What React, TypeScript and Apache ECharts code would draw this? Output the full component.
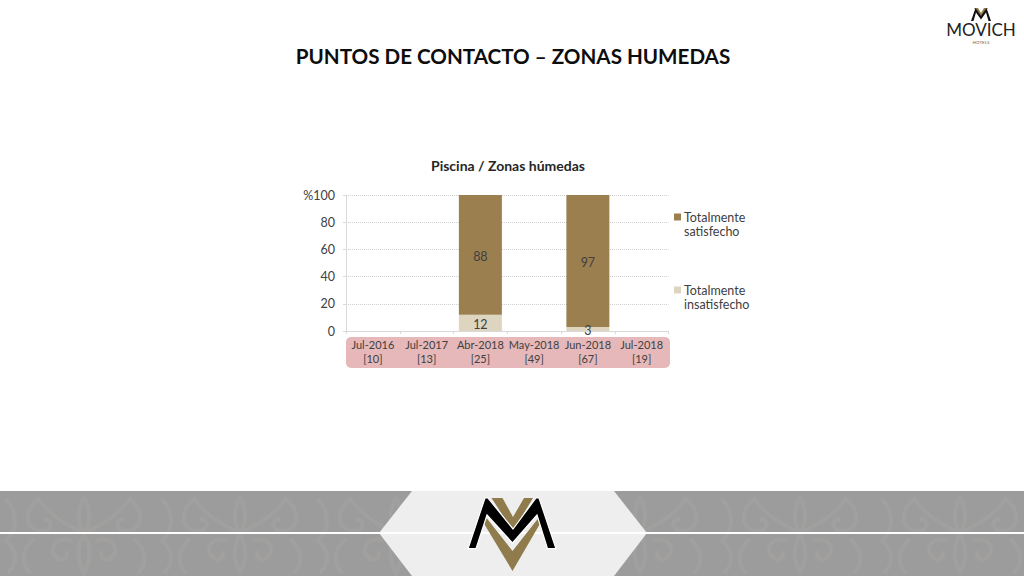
import React, { useEffect, useRef } from "react";
import * as echarts from "echarts";

const mainTitle = "PUNTOS DE CONTACTO – ZONAS HUMEDAS";
const chartTitle = "Piscina / Zonas húmedas";
const categories = ["Jul-2016\n[10]", "Jul-2017\n[13]", "Abr-2018\n[25]", "May-2018\n[49]", "Jun-2018\n[67]", "Jul-2018\n[19]"];
const seriesNames = ["Totalmente\nsatisfecho", "Totalmente\ninsatisfecho"];
const satisfecho = [null, null, 88, null, 97, null];
const insatisfecho = [null, null, 12, null, 3, null];

const FONT = "Lato";
const TEXT = "#404040";
const LEGEND_ICON = "path://M0 0H7V7H0Z M0 21L0 21";
const GOLD = "#8F7B4B";

echarts.graphic.registerShape(
  "damask",
  echarts.graphic.extendPath(
    "M0 -36 C-6 -24 -8 -12 0 0 C8 -12 6 -24 0 -36 M0 0 C-14 -6 -30 -14 -46 -34 C-62 -20 -58 -2 -42 -2 C-32 -2 -30 -14 -40 -14 M0 0 C14 -6 30 -14 46 -34 C62 -20 58 -2 42 -2 C32 -2 30 -14 40 -14 " +
      "M0 2 C-8 14 -6 28 0 40 C6 28 8 14 0 2 M-12 8 C-28 2 -36 16 -28 24 C-22 30 -14 24 -18 18 M12 8 C28 2 36 16 28 24 C22 30 14 24 18 18 " +
      "M-50 6 C-62 16 -64 30 -54 40 M50 6 C62 16 64 30 54 40 M-78 -34 C-66 -20 -66 -4 -78 8 C-66 18 -66 30 -76 40",
    {}
  ) as any
);

const damaskXs = [84, 240, 396, 640, 800, 960];

function App() {
  const ref = useRef<HTMLDivElement>(null);
  useEffect(() => {
    const chart = echarts.init(ref.current!, undefined, { renderer: "svg" });
    const damask = damaskXs.map((x) => ({
      type: "damask",
      x,
      y: 533,
      z: -9,
      silent: true,
      style: { fill: "none", stroke: "#a5a4a1", lineWidth: 4, opacity: 0.6 },
    }));
    chart.setOption({
      animation: false,
      backgroundColor: "#ffffff",
      textStyle: { fontFamily: FONT },
      title: [
        {
          text: mainTitle,
          left: 508,
          top: 40,
          textAlign: "center",
          textStyle: { fontFamily: FONT, fontWeight: "bold", fontSize: 20.6, color: "#0d0d0d" },
        },
        {
          text: chartTitle,
          left: 503,
          top: 153,
          textAlign: "center",
          textStyle: { fontFamily: FONT, fontWeight: "bold", fontSize: 14, color: "#262626" },
        },
      ],
      grid: { left: 346, top: 195, width: 322.5, height: 136 },
      legend: {
        orient: "vertical",
        left: 669,
        top: 205,
        itemWidth: 7,
        itemHeight: 21,
        itemGap: 45,
        icon: LEGEND_ICON,
        data: [seriesNames[0], seriesNames[1]],
        selectedMode: false,
        textStyle: { fontFamily: FONT, fontSize: 12.5, lineHeight: 14, color: TEXT, padding: [0, 0, 0, -2] },
      },
      xAxis: {
        type: "category",
        data: categories,
        axisLine: { lineStyle: { color: "#d9d9d9" } },
        axisTick: { show: true, length: 3, lineStyle: { color: "#d9d9d9" } },
        axisLabel: { interval: 0, margin: 6, fontFamily: FONT, fontSize: 11, lineHeight: 14, color: TEXT },
      },
      yAxis: {
        type: "value",
        min: 0,
        max: 100,
        interval: 20,
        axisLine: { show: true, lineStyle: { color: "#d9d9d9" } },
        axisTick: { show: true, length: 3, lineStyle: { color: "#d9d9d9" } },
        splitLine: { lineStyle: { color: "#cfcfcf", type: "dotted" } },
        axisLabel: {
          margin: 11,
          fontFamily: FONT,
          fontSize: 12.5,
          color: TEXT,
          formatter: (v: number) => (v === 100 ? "%100" : String(v)),
        },
      },
      series: [
        {
          name: seriesNames[1],
          type: "bar",
          stack: "total",
          barWidth: 43,
          data: insatisfecho,
          itemStyle: { color: "#DDD5BF" },
          label: { show: true, position: "inside", offset: [0, 2], fontFamily: FONT, fontSize: 12.5, color: TEXT },
        },
        {
          name: seriesNames[0],
          type: "bar",
          stack: "total",
          barWidth: 43,
          data: satisfecho,
          itemStyle: { color: "#9B7F4F" },
          label: { show: true, position: "inside", offset: [0, 2], fontFamily: FONT, fontSize: 12.5, color: TEXT },
        },
      ],
      graphic: [
        { type: "rect", z: -10, silent: true, shape: { x: 346, y: 337, width: 324, height: 31, r: 5 }, style: { fill: "#E6B8B9" } },
        // footer band
        { type: "rect", z: -10, silent: true, shape: { x: 0, y: 491, width: 1024, height: 85 }, style: { fill: "#9C9C9C" } },
        ...damask,
        { type: "polygon", z: -8, silent: true, shape: { points: [[412, 491], [614, 491], [647, 533], [614, 576], [412, 576], [379, 533]] }, style: { fill: "#EEEEEE" } },
        { type: "rect", z: -7, silent: true, shape: { x: 0, y: 532, width: 1024, height: 2 }, style: { fill: "#ffffff" } },
        // footer logo
        { type: "polygon", z: -6, silent: true, shape: { points: [[491.5, 498], [502.5, 498], [513, 517], [524, 498], [533, 498], [513, 531]] }, style: { fill: GOLD } },
        { type: "polygon", z: -6, silent: true, shape: { points: [[483, 522], [512.5, 571], [541, 522], [538.5, 518], [512.5, 551], [486.5, 518]] }, style: { fill: GOLD } },
        { type: "polygon", z: -5, silent: true, shape: { points: [[468, 548.7], [485, 498], [488, 498], [513, 529], [536, 498], [539, 498], [556, 548.7], [547.5, 548.7], [537, 515], [512.5, 543], [487, 515], [476, 548.7]] }, style: { fill: "#000000", stroke: "#ffffff", lineWidth: 1.2 } },
        // top logo
        { type: "polygon", silent: true, shape: { points: [[974, 8], [978, 8], [981, 13], [984, 8], [988, 8], [981, 18]] }, style: { fill: GOLD } },
        { type: "polygon", silent: true, shape: { points: [[971, 21], [975.5, 8], [981, 16], [986.5, 8], [991, 21], [988.5, 21], [986, 12.5], [981, 19.5], [976, 12.5], [973.5, 21]] }, style: { fill: "#111111" } },
        { type: "text", silent: true, x: 981, y: 22, style: { text: "MOVICH", fontFamily: FONT, fontSize: 17, lineHeight: 14, fill: "#222222", align: "center", verticalAlign: "top" } },
        { type: "text", silent: true, x: 981, y: 39.5, style: { text: "HOTELS", fontFamily: FONT, fontSize: 4.5, lineHeight: 5, fill: "#666666", align: "center", verticalAlign: "top" } },
      ],
    });
    return () => chart.dispose();
  }, []);
  return <div ref={ref} style={{ position: "fixed", left: 0, top: 0, width: 1024, height: 576 }} />;
}

export default App;
